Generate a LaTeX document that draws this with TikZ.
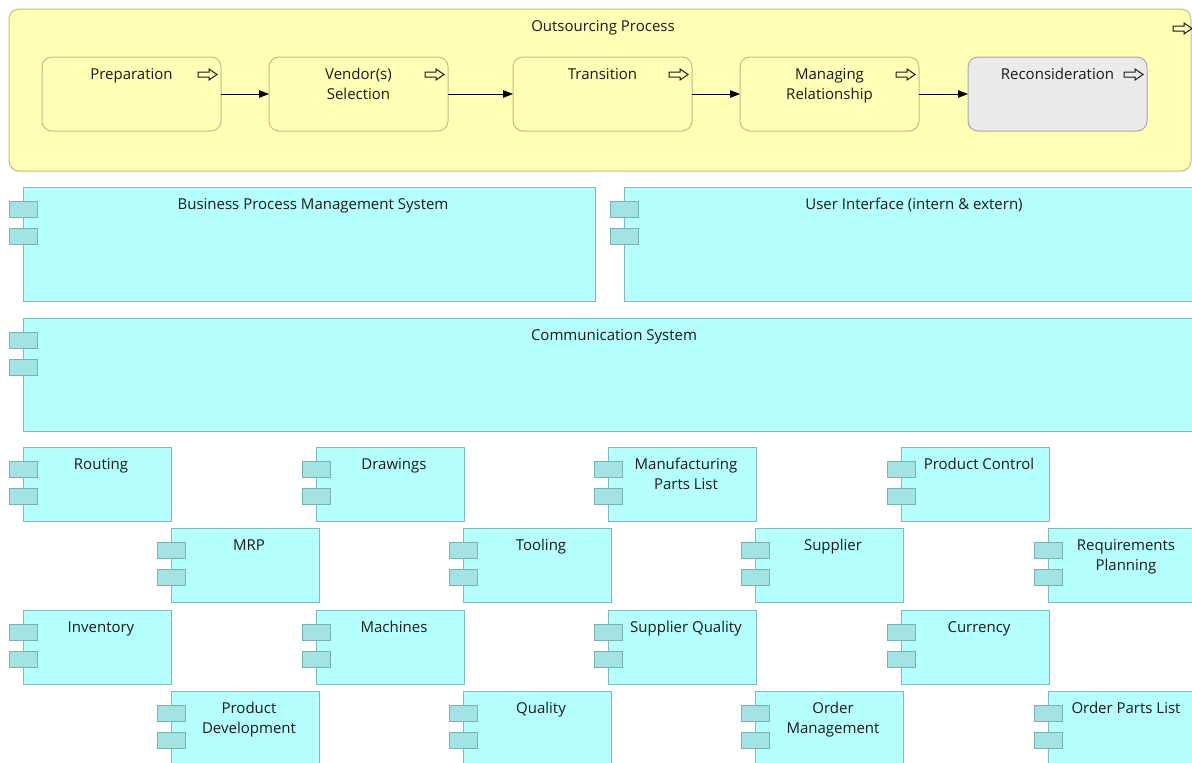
\documentclass[tikz,border=0pt]{standalone}
\usepackage{fontspec}
\setmainfont{Open Sans}
\usetikzlibrary{arrows.meta,calc}

\definecolor{bizfill}{HTML}{FFFFB5}
\definecolor{bizline}{HTML}{BFBF84}
\definecolor{greyfill}{HTML}{EBEBEB}
\definecolor{greyline}{HTML}{A8A8A8}
\definecolor{appfill}{HTML}{B5FFFF}
\definecolor{appline}{HTML}{80BABA}
\definecolor{tabfill}{HTML}{A4E3E3}
\definecolor{tabline}{HTML}{7AB2B2}
\definecolor{txt}{HTML}{1A1A1A}

% a line break that keeps a fixed baseline distance
\newcommand\brk{\\\strut}

\tikzset{
  procbox/.style={draw=bizline, fill=bizfill, line width=1pt, rounded corners=10pt,
    inner sep=0pt, outer sep=0pt, anchor=north west},
  greybox/.style={procbox, draw=greyline, fill=greyfill},
  appbox/.style={draw=appline, fill=appfill, line width=1pt, inner sep=0pt,
    outer sep=0pt, anchor=north west},
  tabbox/.style={draw=tabline, fill=tabfill, line width=1pt, inner sep=0pt,
    outer sep=0pt, minimum width=28pt, minimum height=16pt, anchor=north west},
  lbl/.style={inner sep=0pt, align=center, anchor=north, text=txt,
    font=\fontsize{15}{20}\selectfont},
  conn/.style={draw=black, line width=1pt, -{Triangle[length=10pt,width=7.5pt]}},
  procicon/.pic={
    \draw[line width=1pt, draw=txt, line join=miter]
      (0,-2.5) -- (11,-2.5) -- (11,-5.5) -- (19,0) -- (11,5.5) -- (11,2.5) -- (0,2.5) -- cycle;
  }
}

% application component: name, x, y, width, height, label
\newcommand\appcomp[6]{%
  \node[appbox, minimum width=#4, minimum height=#5] (#1) at (#2,#3) {};
  \node[tabbox] (#1-t1) at ($(#1.north west)+(-14,14)$) {};
  \node[tabbox] (#1-t2) at ($(#1.north west)+(-14,41)$) {};
  \node[lbl] (#1-l) at ($(#1.north)+(4,8)$) {\strut #6};
}

% process step: name, x, label, style
\newcommand\procstep[4]{%
  \node[#4, minimum width=179, minimum height=74] (#1) at (#2,57) {};
  \node[lbl] (#1-l) at ($(#1.north)+(0,8)$) {\strut #3};
  \pic at ($(#1.north east)+(-23,17.5)$) {procicon};
}

\begin{document}
\begin{tikzpicture}[x=1pt,y=-1pt]
\clip (0,0) rectangle (1192,763);
\fill[white] (0,0) rectangle (1192,763);

% outsourcing process container
\node[procbox, minimum width=1182, minimum height=162] (outer) at (9,9) {};
\node[lbl] (outer-l) at ($(outer.north)+(3,8)$) {\strut Outsourcing Process};
\pic at ($(outer.north east)+(-18,19.5)$) {procicon};

% process steps
\procstep{prep}{42}{Preparation}{procbox}
\procstep{vend}{269}{Vendor(s)\brk Selection}{procbox}
\procstep{trans}{513}{Transition}{procbox}
\procstep{manage}{740}{Managing\brk Relationship}{procbox}
\procstep{recons}{968}{Reconsideration}{greybox}

\draw[conn] (prep.east) -- (vend.west);
\draw[conn] (vend.east) -- (trans.west);
\draw[conn] (trans.east) -- (manage.west);
\draw[conn] (manage.east) -- (recons.west);

% large application components
\appcomp{bpms}{23}{187}{572}{114}{Business Process Management System}
\appcomp{ui}{624}{187}{572}{114}{User Interface (intern \& extern)}
\appcomp{comm}{23}{318}{1174}{113}{Communication System}

% small application components
\appcomp{routing}{23}{447}{148}{74}{Routing}
\appcomp{drawings}{316}{447}{148}{74}{Drawings}
\appcomp{mpl}{608}{447}{148}{74}{Manufacturing\brk Parts List}
\appcomp{prodctl}{901}{447}{148}{74}{Product Control}

\appcomp{mrp}{171}{528}{148}{74}{MRP}
\appcomp{tooling}{463}{528}{148}{74}{Tooling}
\appcomp{supplier}{755}{528}{148}{74}{Supplier}
\appcomp{reqplan}{1048}{528}{148}{74}{Requirements\brk Planning}

\appcomp{inventory}{23}{610}{148}{74}{Inventory}
\appcomp{machines}{316}{610}{148}{74}{Machines}
\appcomp{supqual}{608}{610}{148}{74}{Supplier Quality}
\appcomp{currency}{901}{610}{148}{74}{Currency}

\appcomp{proddev}{171}{691}{148}{74}{Product\brk Development}
\appcomp{quality}{463}{691}{148}{74}{Quality}
\appcomp{ordermgmt}{755}{691}{148}{74}{Order\brk Management}
\appcomp{orderparts}{1048}{691}{148}{74}{Order Parts List}
\end{tikzpicture}
\end{document}
